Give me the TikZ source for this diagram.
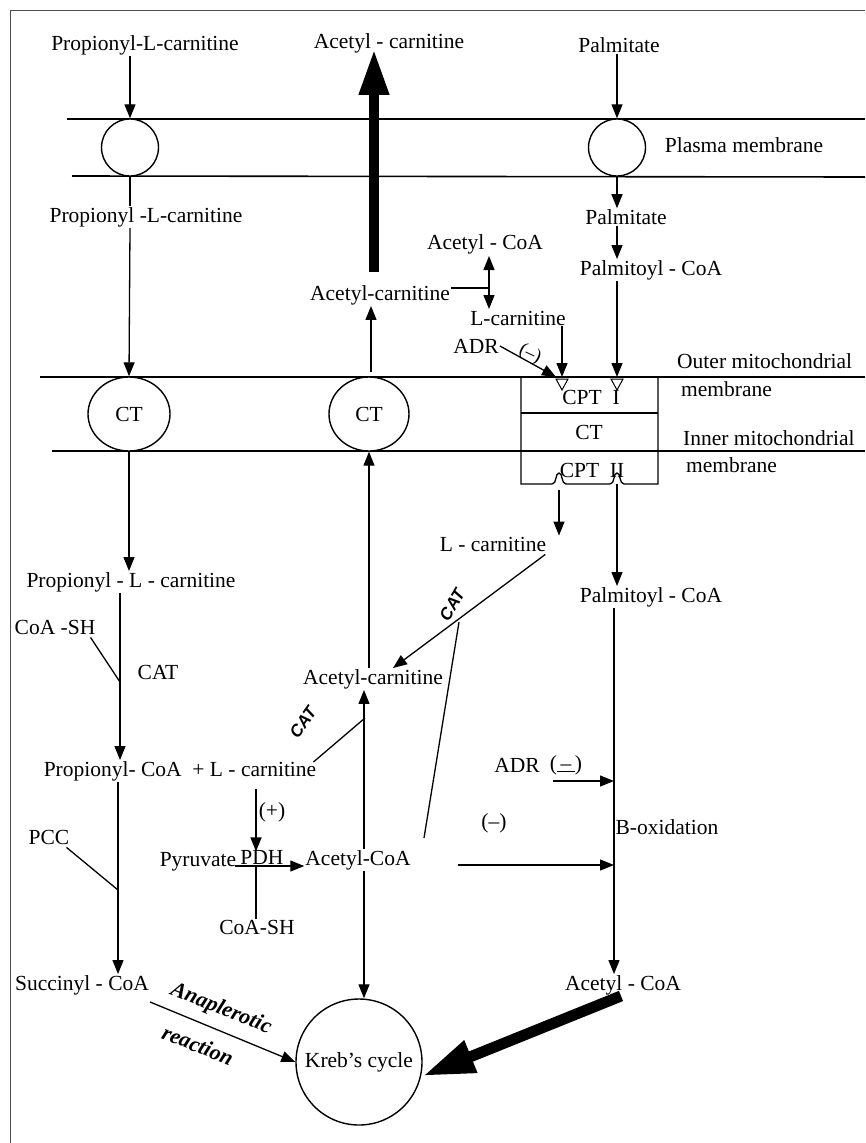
\documentclass[tikz,border=0pt]{standalone}
\usepackage{fontspec}
\setmainfont{Liberation Serif}
\newfontfamily\catfont{Liberation Sans}
\usetikzlibrary{arrows.meta,calc,shapes.geometric}
\begin{document}
\begin{tikzpicture}[x=1pt,y=-1pt,
  every node/.style={font=\fontsize{21.5}{24}\selectfont, inner sep=1pt},
  arr/.style={line width=1.3pt,-{Triangle[length=14pt,width=11pt]}},
  darr/.style={line width=1.3pt,{Triangle[length=14pt,width=11pt]}-{Triangle[length=14pt,width=11pt]}},
  ln/.style={line width=1.3pt},
  mem/.style={line width=1.6pt},
  bigarr/.style={line width=10pt,-{Triangle[length=46pt,width=28pt]}},
  bigarrb/.style={line width=11pt,-{Triangle[length=52pt,width=32pt]}},
  opentip/.style={draw,line width=1pt,fill=white},
  catlbl/.style={font=\catfont\bfseries\itshape\fontsize{17}{18}\selectfont},
  ital/.style={font=\itshape\bfseries\fontsize{22}{24}\selectfont}
]
\useasboundingbox (0,0) rectangle (865,1143);
% frame
\draw[line width=1pt,black!70] (10,1143) -- (10,10) -- (865,10);

% membranes
\draw[mem] (67,119) -- (865,119);
\draw[mem] (72,176) -- (865,177);
\draw[mem] (40,377) -- (865,377);
\draw[mem] (52,451) -- (865,451);

% pores
\node[draw,circle,line width=1.4pt,fill=white,minimum size=57pt] (pm1) at (130,147.5) {};
\node[draw,circle,line width=1.4pt,fill=white,minimum size=57pt] (pm2) at (617,147.5) {};
\node[draw,ellipse,line width=1.4pt,fill=white,minimum width=82pt,minimum height=74pt,inner sep=0pt] (ct1) at (129,414) {CT};
\node[draw,ellipse,line width=1.4pt,fill=white,minimum width=80pt,minimum height=74pt,inner sep=0pt] (ct2) at (369,414) {CT};

% CPT box
\draw[ln] (521,377) -- (521,484) -- (552,484)
  .. controls (557,484) and (555,473) .. (559,473)
  .. controls (563,473) and (561,484) .. (566,484)
  -- (610,484)
  .. controls (615,484) and (613,473) .. (617,473)
  .. controls (621,473) and (619,484) .. (624,484)
  -- (658,484) -- (658,377);
\draw[ln] (521,413) -- (658,413);
\node (cpt1) at (591,397) {CPT\ \ I};
\node (ctb) at (589,432) {CT};
\node (cpt2) at (592,470) {CPT\ \ II};
\coordinate (cpt1a) at (562,377);
\coordinate (cpt1b) at (617,377);
\coordinate (cpt2a) at (559,490);
\coordinate (cpt2b) at (617,484);

% texts
\node (tprop) at (145,45) {Propionyl-L-carnitine};
\node (tacar) at (389,43) {Acetyl - carnitine};
\node (tpalm) at (619,45) {Palmitate};
\node (tplasma) at (744,145) {Plasma membrane};
\node (tprop2) at (146,217) {Propionyl -L-carnitine};
\node (tpalm2) at (626,217) {Palmitate};
\node (tpalmcoa) at (651,270) {Palmitoyl - CoA};
\node (tacoa1) at (485,244) {Acetyl - CoA};
\node (tacarn1) at (380,295) {Acetyl-carnitine};
\node (tlcarn1) at (518,318) {L-carnitine};
\node (tadr1) at (476,346) {ADR};
\node[rotate=-25,font=\fontsize{19}{20}\selectfont] (tinh) at (530,354) {(--)};
\node[anchor=west] (touter) at (676,361) {Outer mitochondrial};
\node[anchor=west] (tmem1) at (680,389) {membrane};
\node[anchor=west] (tinner) at (682,438) {Inner mitochondrial};
\node[anchor=west] (tmem2) at (685,465) {membrane};

\node (tlcarn2) at (493,544) {L - carnitine};
\node (tpalmcoa2) at (651,597) {Palmitoyl - CoA};
\node (tpropcarn) at (131,582) {Propionyl - L - carnitine};
\node (tcoash1) at (55,627) {CoA -SH};
\node (tcat1) at (158,672) {CAT};
\node (tacarn2) at (373,679) {Acetyl-carnitine};
\node[catlbl,rotate=60] (tcatr) at (452,605) {CAT};
\node[catlbl,rotate=55] (tcatl) at (303,722) {CAT};
\node (tpropcoa) at (180,771) {Propionyl- CoA\ \ + L - carnitine};
\node (tadr2) at (517,765) {ADR};
\node (tm1) at (566,765) {(\underline{\,--\,})};
\node (tpcc) at (49,837) {PCC};
\node (tplus) at (272,812) {(+)};
\node (tm2) at (494,823) {(--)};
\node (tbox) at (667,827) {B-oxidation};
\node (tpyr) at (198,862) {Pyruvate};
\node (tpdh) at (262,857) {PDH};
\node (tacoa2) at (358,860) {Acetyl-CoA};
\node (tcoash2) at (257,927) {CoA-SH};
\node (tsucc) at (82,985) {Succinyl - CoA};
\node (tacoa3) at (623,985) {Acetyl - CoA};
\node[ital,rotate=-22] (tanap) at (221,1009) {Anaplerotic};
\node[ital,rotate=-22] (treact) at (198,1045) {reaction};
\node[draw,circle,line width=1.4pt,minimum size=126pt,inner sep=0pt] (krebs) at (359,1062) {Kreb's cycle};

% connectors top
\draw[arr] (tprop.south -| pm1) -- (pm1.north);
\draw[arr] (tpalm.south -| pm2) -- (pm2.north);
\draw[ln] (pm1.south) -- (tprop2.north -| pm1);
\draw[arr] (tprop2.south -| pm1) -- (ct1.north);
\draw[arr] (pm2.south) -- (tpalm2.north -| pm2);
\draw[arr] (tpalm2.south -| pm2) -- (tpalmcoa.north -| pm2);
\draw[arr] (tpalmcoa.south -| cpt1b) -- (cpt1b);
\draw[opentip] (611,379) -- (623,379) -- (617,390) -- cycle;
\draw[arr] (tlcarn1.south -| cpt1a) -- (cpt1a);
\draw[opentip] (556,379) -- (568,379) -- (562,390) -- cycle;
\draw[arr] (tadr1.east) -- ([xshift=-6pt]cpt1a);
\coordinate (bx0) at (374,0);
\draw[bigarr] ([yshift=12pt]tacarn1.north -| bx0) -- ([yshift=5pt]tacar.south -| bx0);
\coordinate (dtop) at (489,256);
\coordinate (dbot) at (489,309);
\draw[darr] (dtop) -- (dbot);
\draw[ln] ([yshift=7pt]tacarn1.east) -- ([yshift=7pt]tacarn1.east -| dtop);
\coordinate (ax1) at (371,0);
\draw[arr] ([yshift=4pt]ct2.north -| ax1) -- (tacarn1.south -| ax1);

% middle
\draw[arr] (tacarn2.north -| ct2) -- (ct2.south);
\draw[arr] (ct1.south) -- (tpropcarn.north -| ct1);
\coordinate (pcx) at (120,0);
\draw[arr] (tpropcarn.south -| pcx) -- (tpropcoa.north -| pcx);
\coordinate (cjoin1) at (120,682);
\draw[ln] (tcoash1.south east) ++(-6,2) -- (cjoin1);
\coordinate (psx) at (118,0);
\draw[arr] (tpropcoa.south -| psx) -- (tsucc.north -| psx);
\coordinate (cjoin2) at (118,890);
\draw[ln] (tpcc.south east) ++(-4,2) -- (cjoin2);
\draw[arr] (tsucc.east) ++(0,17) -- (krebs.west |- 0,1062) ;

\coordinate (ax) at (364,0);
\draw[arr] (tacoa2.south -| ax) -- (krebs.north -| ax);
\draw[arr] (tacoa2.north -| ax) -- (tacarn2.south -| ax);
\coordinate (catl1) at (365,718);
\draw[ln] (tpropcoa.north east) ++(-4,2) -- (catl1);
\draw[arr] (tlcarn2.south east) ++(-2,2) coordinate (lc2) -- ([xshift=20pt]tacarn2.north);
\coordinate (catr1) at (459,622);
\draw[ln] (catr1) -- (424,838) coordinate (catr2);

\draw[arr] (cpt2a) -- (tlcarn2.north -| cpt2a);
\draw[arr] (cpt2b) -- (tpalmcoa2.north -| cpt2b);
\coordinate (bx) at (614,0);
\draw[arr] (tpalmcoa2.south -| bx) -- (tacoa3.north -| bx);
\draw[arr] (553,781) -- (0,781 -| bx) ;
\draw[arr] (458,865) -- (0,865 -| bx);
\draw[arr] (tplus.north -| 256,0) ++(0,-12) -- (tpyr.north -| 256,0);
\draw[arr] (tpyr.east) ++(-2,4) coordinate (pdh1) -- (tacoa2.west |- pdh1);
\draw[ln] (256,866) -- (tcoash2.north -| 256,0);
\draw[bigarrb] ([xshift=-2pt]tacoa3.south) -- (krebs.east |- 0,1076);
\end{tikzpicture}
\end{document}
